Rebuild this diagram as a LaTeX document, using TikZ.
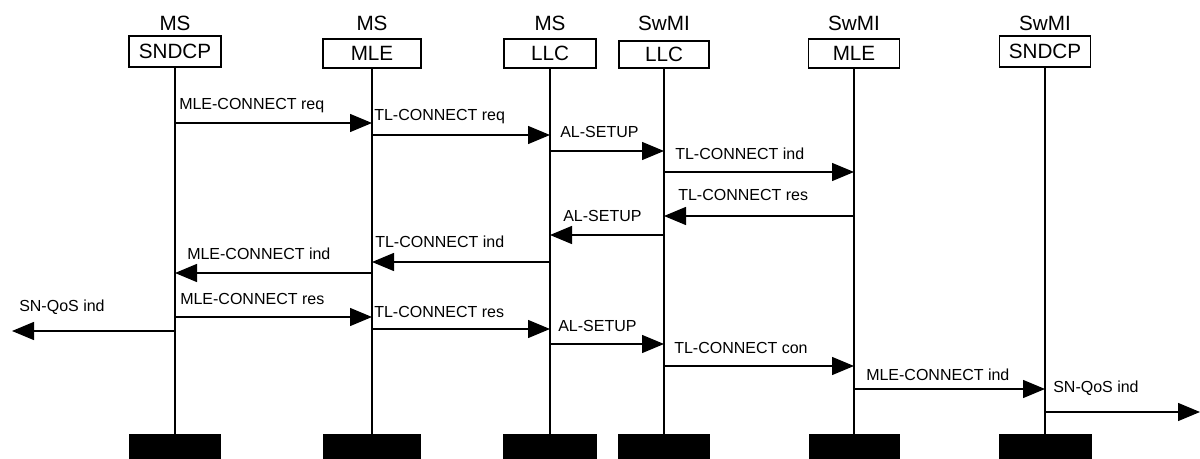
\documentclass[tikz,border=0pt]{standalone}
\usepackage{fontspec}
\setmainfont{Liberation Sans}
\usetikzlibrary{arrows.meta,positioning}

\begin{document}
\begin{tikzpicture}[x=0.75pt, y=-0.75pt,
    layer/.style={draw, line width=1.2pt, inner sep=0pt, font=\fontsize{15.5}{18}\selectfont},
    who/.style={inner sep=0pt, font=\fontsize{15.5}{18}\selectfont},
    foot/.style={fill=black, inner sep=0pt, minimum height=18.75pt, anchor=north},
    msg/.style={line width=1pt, -{Triangle[length=16.5pt, width=13.5pt]}},
    lbl/.style={anchor=west, inner sep=0pt, font=\fontsize{12}{14}\selectfont}]
\useasboundingbox (0,0) rectangle (1200,459);
% entities with their life lines
\foreach \n/\side/\lay/\x/\w/\yt/\yb/\fw in {msSndcp/MS/SNDCP/175/92/36/67/92,
    msMle/MS/MLE/372/98/39/68/98, msLlc/MS/LLC/550/92/39/68/94,
    swLlc/SwMI/LLC/664/90/41/68/92, swMle/SwMI/MLE/854/91/39/68/91,
    swSndcp/SwMI/SNDCP/1045/91/36/67/93}{
    \node[who] (\n-who) at (\x,23) {\side};
    \node[layer, minimum width=\w*0.75pt, minimum height={(\yb-\yt)*0.75pt}] (\n) at (\x,{(\yt+\yb)/2}) {\lay};
    \node[foot, minimum width=\fw*0.75pt] (\n-end) at (\x,434) {};
    \draw[line width=1pt] (\n) -- (\n-end);
}
\coordinate (outL) at (12,331);
\coordinate (outR) at (1200,412);
% messages
\foreach \s/\t/\y/\lx/\ly/\txt [count=\i] in {msSndcp/msMle/123/179/106/MLE-CONNECT req,
    msMle/msLlc/135/374/117/TL-CONNECT req, msLlc/swLlc/151/560/132/AL-SETUP,
    swLlc/swMle/172/675/154/TL-CONNECT ind, swMle/swLlc/216/678/195/TL-CONNECT res,
    swLlc/msLlc/235/563/216/AL-SETUP, msLlc/msMle/262/375/242/TL-CONNECT ind,
    msMle/msSndcp/273/187/254/MLE-CONNECT ind, msSndcp/outL/331/19/307/SN-QoS ind,
    msSndcp/msMle/317/180/299/MLE-CONNECT res, msMle/msLlc/329/374/312/TL-CONNECT res,
    msLlc/swLlc/344/558/326/AL-SETUP, swLlc/swMle/366/674/348/TL-CONNECT con,
    swMle/swSndcp/389/866/375/MLE-CONNECT ind, swSndcp/outR/412/1053/388/SN-QoS ind}{
    \draw[msg] (\s |- 0,\y) -- (\t |- 0,\y);
    \node[lbl] (m\i) at (\lx,\ly) {\txt};
}
\end{tikzpicture}
\end{document}
